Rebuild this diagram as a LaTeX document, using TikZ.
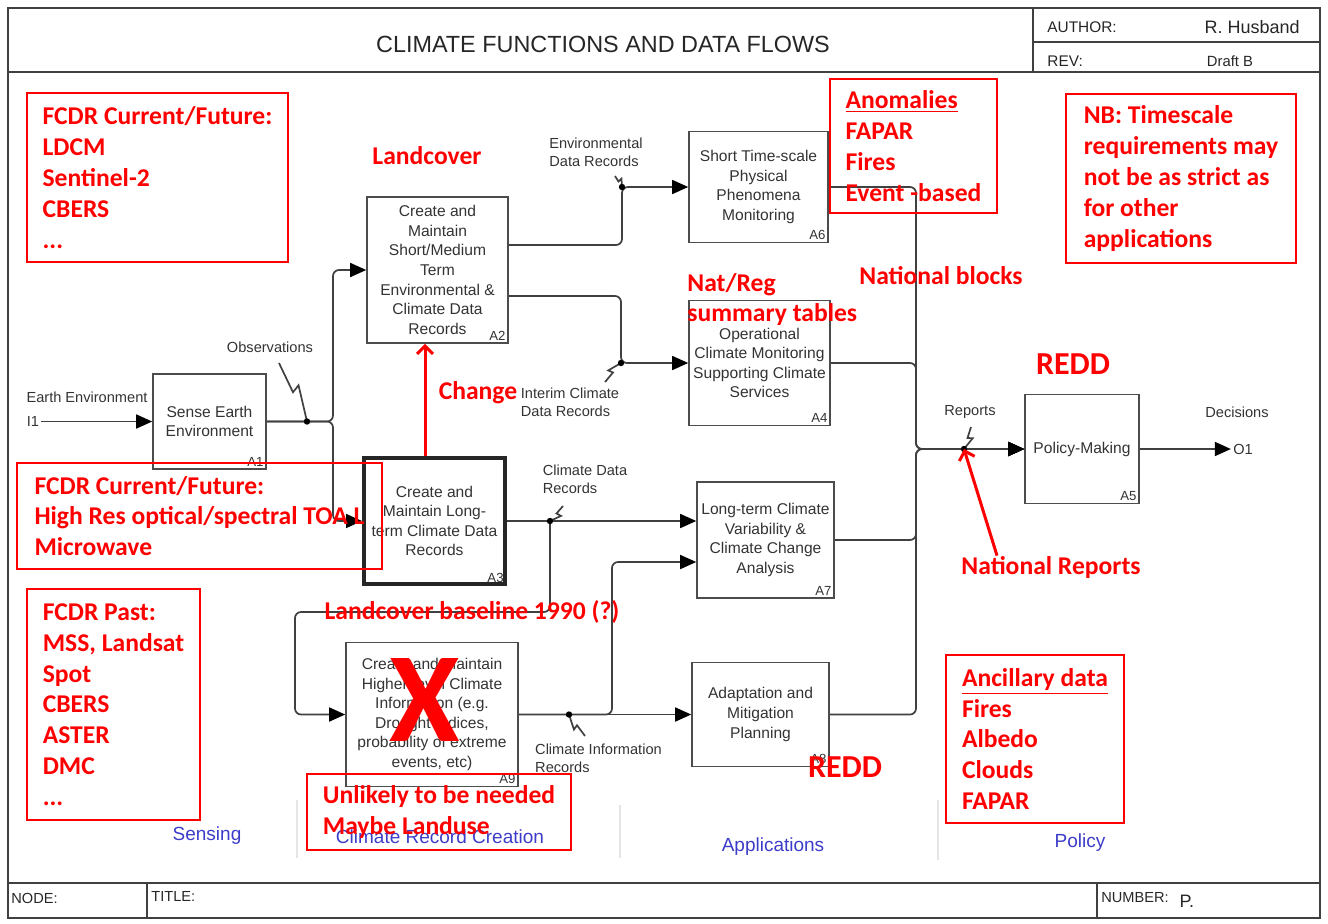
\documentclass[tikz,border=0pt]{standalone}
\usepackage{fontspec}
\setmainfont{Liberation Sans}
\newfontfamily\notefont{Carlito}
\usepackage{xcolor}
\usepackage{tikz}
\usetikzlibrary{arrows.meta,positioning,calc}

\definecolor{areablue}{RGB}{60,60,200}
\tikzset{
  func/.style={draw=black!70, line width=0.8pt, inner sep=0pt, align=center,
               text=black!80, font=\fontsize{7.8}{9.8}\selectfont},
  tag/.style={anchor=south east, inner sep=1.5pt, text=black!80,
              font=\fontsize{6.6}{7}\selectfont},
  lbl/.style={align=left, inner sep=1pt, text=black!80,
              font=\fontsize{7.3}{9}\selectfont},
  conn/.style={black!75, line width=0.85pt, rounded corners=3pt},
  flow/.style={conn, -{Triangle[length=8pt,width=7pt,color=black]}},
  frame/.style={black!75, line width=1pt},
  hdr/.style={inner sep=1pt, text=black!85, font=\fontsize{7.7}{9}\selectfont},
  area/.style={text=areablue, font=\fontsize{9.5}{11}\selectfont},
  note/.style={text=red, align=left, inner sep=0pt,
               font=\notefont\bfseries\fontsize{12.8}{15.4}\selectfont},
  notebox/.style={note, draw=red, line width=0.6pt},
  bignote/.style={note, font=\notefont\bfseries\fontsize{16}{18}\selectfont},
  redarrow/.style={red, line width=1.5pt, -{Straight Barb[length=4pt,width=8pt]}},
}
% lightning-bolt tie from a label to its arrow
\newcommand{\zig}[3][2.5pt]{%
  \draw[conn,rounded corners=0pt] (#2) -- ($(#2)!0.5!(#3)$)
    -- ($(#2)!0.44!(#3)!#1!90:(#3)$) -- (#3);}

\begin{document}
\begin{tikzpicture}[x=0.5pt,y=-0.5pt]
  \useasboundingbox (0,0) rectangle (1328,923);
  % --- sheet frame ---
  \draw[frame] (8,8) rectangle (1320,918);
  \draw[frame,line width=1.4pt] (8,72) -- (1320,72);
  \draw[frame,line width=1.4pt] (1033,8) rectangle (1320,72);
  \draw[frame] (1033,42) -- (1320,42);
  \draw[frame,line width=1.4pt] (8,883) -- (1320,883);
  \draw[frame] (147,883) -- (147,918);
  \draw[frame,line width=1.4pt] (1097,883) -- (1097,918);
  \node[font=\fontsize{11.7}{14}\selectfont,text=black!85] (title) at (603,44)
    {CLIMATE FUNCTIONS AND DATA FLOWS};
  \node[hdr,anchor=west] (author) at (1045,27) {AUTHOR:};
  \node[hdr,anchor=east,font=\fontsize{9}{10}\selectfont] (authname) at (1302,27) {R. Husband};
  \node[hdr,anchor=west] (rev) at (1045,61) {REV:};
  \node[hdr,font=\fontsize{7.4}{9}\selectfont] (draft) at (1230,61) {Draft B};
  \node[hdr,anchor=west,font=\fontsize{7.3}{9}\selectfont] (nodelbl) at (9,898) {NODE:};
  \node[hdr,anchor=west,font=\fontsize{7.3}{9}\selectfont] (titlelbl) at (149,896) {TITLE:};
  \node[hdr,anchor=west,font=\fontsize{7.3}{9}\selectfont] (number) at (1099,898) {NUMBER:};
  \node[hdr,right=3pt of number,yshift=-1.5pt,font=\fontsize{9}{10}\selectfont] (page) {P.};

  % --- activity boxes ---
  \node[func,minimum width=56.5pt,minimum height=47.5pt] (A1) at (209.5,421.5)
    {Sense Earth\\Environment};
  \node[func,minimum width=70.5pt,minimum height=73pt] (A2) at (437.5,270)
    {Create and\\Maintain\\Short/Medium\\Term\\Environmental \&\\Climate Data\\Records};
  \node[func,line width=2pt,draw=black!85,minimum width=70.5pt,minimum height=63pt] (A3) at (434.5,521)
    {Create and\\Maintain Long-\\term Climate Data\\Records};
  \node[func,minimum width=69.5pt,minimum height=55.5pt] (A6) at (758.5,187)
    {Short Time-scale\\Physical\\Phenomena\\Monitoring};
  \node[func,minimum width=70.5pt,minimum height=62.5pt] (A4) at (759.5,363)
    {Operational\\Climate Monitoring\\Supporting Climate\\Services};
  \node[func,minimum width=68.5pt,minimum height=58pt] (A7) at (765.5,540)
    {Long-term Climate\\Variability \&\\Climate Change\\Analysis};
  \node[func,minimum width=68.5pt,minimum height=52pt] (A8) at (760.5,714.5)
    {Adaptation and\\Mitigation\\Planning};
  \node[func,minimum width=86pt,minimum height=72pt] (A9) at (432,714.5)
    {Create and Maintain\\Higher-level Climate\\Information (e.g.\\Drought Indices,\\probability of extreme\\events, etc)};
  \node[func,minimum width=57pt,minimum height=54.5pt] (A5) at (1082,449)
    {Policy-Making};
  \foreach \n in {A1,A2,A3,A4,A5,A6,A7,A8,A9}
    \node[tag] at (\n.south east) {\n};

  % --- arrow labels ---
  \node[lbl] (ee) at (87,397) {Earth Environment};
  \node[lbl] (I1) at (33,421.5) {I1};
  \node[lbl] (obs) at (270,347) {Observations};
  \node[lbl] (envrec) at (596,152) {Environmental\\Data Records};
  \node[lbl] (intrec) at (570,402) {Interim Climate\\Data Records};
  \node[lbl] (cdrec) at (585,479) {Climate Data\\Records};
  \node[lbl] (cirec) at (598.5,758.5) {Climate Information\\Records};
  \node[lbl] (reports) at (970,412) {Reports};
  \node[lbl] (decisions) at (1237,412) {Decisions};
  \node[lbl] (O1) at (1243,449) {O1};

  % --- connectors ---
  \coordinate (fork) at (333,0 |- A1.east);
  \coordinate (obsdot) at (307,0 |- A1.east);
  \draw[flow] (I1.east) -- (A1.west);
  \draw[flow] (A1.east) -- (fork) |- (A2.west);
  \draw[flow] (A1.east) -- (fork) |- (A3.west);

  \coordinate (envdot) at (622,0 |- A6.west);
  \coordinate (intdot) at (621,0 |- A4.west);
  \draw[flow] (A2.east |- 0,245) -| (envdot) -- (A6.west);
  \draw[flow] (A2.east |- 0,296) -| (intdot) -- (A4.west);

  \coordinate (cdrdot) at (550,0 |- A3.east);
  \draw[flow] (A3.east) -- (A7.west |- A3.east);
  \draw[flow] (cdrdot) |- (295,612) |- (A9.west);

  \coordinate (ciddot) at (569,0 |- A9.east);
  \draw[flow] (A9.east) -- (A8.west);
  \draw[flow] (A9.east) -| (612,562) -- (A7.west |- 0,562);

  \coordinate (bus) at (916,0 |- A5.west);
  \coordinate (repdot) at (964,0 |- A5.west);
  \foreach \src in {A6,A4,A7,A8}
    \draw[flow] (\src.east) -| (bus) -- (A5.west);
  \draw[flow] (A5.east) -- (O1.west);

  \zig[4pt]{279,363}{obsdot}
  \zig[2pt]{615,176}{envdot}
  \zig{605,382}{intdot}
  \zig{563,506}{cdrdot}
  \zig{585,736}{ciddot}
  \zig{971,427}{repdot}
  \foreach \j in {obsdot,envdot,intdot,cdrdot,ciddot,repdot}
    \fill[black] (\j) circle (1.6pt);

  % --- view areas ---
  \foreach \x/\ya/\yb in {297/800/858,620/805/858,938/800/860}
    \draw[black!10,line width=0.8pt] (\x,\ya) -- (\x,\yb);
  \node[area] (sensing) at (207,836) {Sensing};
  \node[area] (creation) at (440,837) {Climate Record Creation};
  \node[area] (apps) at (773,847) {Applications};
  \node[area] (policy) at (1080,843) {Policy};

  % --- review notes ---
  \node[notebox,minimum width=130.5pt,minimum height=84.5pt] (fcdrnow) at (157.5,177.5)
    {FCDR Current/Future:\\LDCM\\Sentinel-2\\CBERS\\...};
  \node[notebox,minimum width=83.5pt,minimum height=67pt] (anom) at (913.5,146)
    {\underline{Anomalies}\\FAPAR\\Fires\\Event -based};
  \node[notebox,minimum width=115pt,minimum height=84.5pt] (nb) at (1181,178.5)
    {NB: Timescale\\requirements may\\not be as strict as\\for other\\applications};
  \node[notebox,minimum width=182.5pt,minimum height=53pt] (fcdrhires) at (199.5,516)
    {FCDR Current/Future:\\High Res optical/spectral TOA L\\Microwave};
  \node[notebox,minimum width=86.5pt,minimum height=115.5pt] (fcdrpast) at (113.5,704.5)
    {FCDR Past:\\MSS, Landsat\\Spot\\CBERS\\ASTER\\DMC\\...};
  \node[notebox,minimum width=132pt,minimum height=38pt] (unlikely) at (439,812)
    {Unlikely to be needed\\Maybe Landuse};
  \node[notebox,minimum width=89pt,minimum height=84pt] (ancil) at (1035,739)
    {\underline{Ancillary data}\\Fires\\Albedo\\Clouds\\FAPAR};

  \node[note] (landcover) at (427,156) {Landcover};
  \node[note] (natblocks) at (941,276) {National blocks};
  \node[note,anchor=west] (natreg) at (687,299.5) {Nat/Reg\\summary tables};
  \node[note] (change) at (478,393) {Change};
  \node[note] (baseline) at (472,612) {Landcover baseline 1990 (?)};
  \node[note] (natrep) at (1051,567) {National Reports};
  \node[bignote] (redd) at (1073,364) {REDD};
  \node[bignote] (reddplan) at (845,767) {REDD};
  \node[note,font=\notefont\bfseries\fontsize{64}{64}\selectfont] (xmark) at (425,700) {X};

  \draw[redarrow] (A3.north -| 425,0) -- (A2.south -| 425,0);
  \draw[redarrow] (natrep.north -| 997,0) -- (repdot);
\end{tikzpicture}
\end{document}
